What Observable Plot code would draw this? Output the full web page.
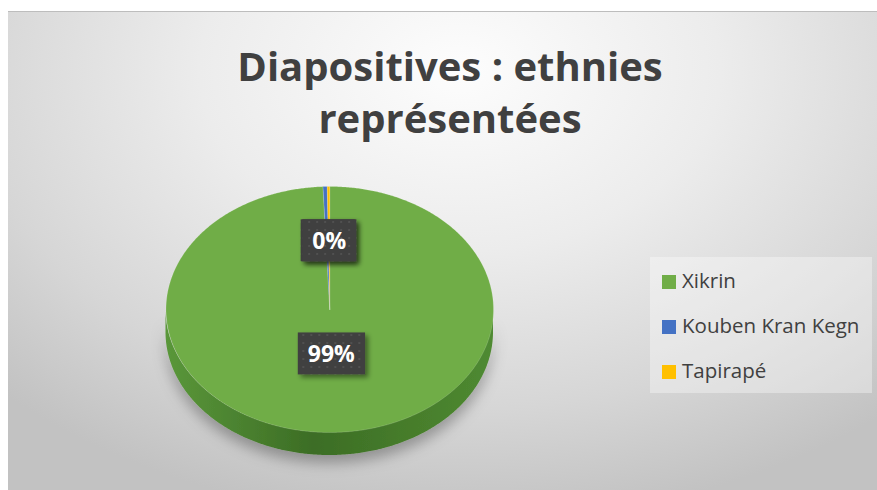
<!DOCTYPE html>
<html>
<head>
<meta charset="utf-8">
<script src="https://cdn.jsdelivr.net/npm/d3@7"></script>
<script src="https://cdn.jsdelivr.net/npm/@observablehq/plot@0.6"></script>
<style>
  html, body { margin: 0; padding: 0; background: #ffffff; }
  #wrap { position: relative; width: 877px; height: 490px; overflow: hidden; background: #ffffff; }
  #bg { position: absolute; left: 8px; top: 11px; width: 869px; height: 479px;
        background: radial-gradient(ellipse 75% 95% at 52% 12%, #fdfdfd 0%, #ececec 40%, #d6d6d6 75%, #c2c2c2 100%);
        border-top: 1px solid #bdbdbd; box-sizing: border-box; }
  #title { position: absolute; left: 8px; width: 884px; top: 40px; text-align: center;
           font-family: "Open Sans", sans-serif; font-weight: bold; font-size: 40px; line-height: 52px; color: #404040; }
  #chart { position: absolute; left: 0; top: 0; }
  #chart svg { background: transparent !important; }
  #legend { position: absolute; left: 650px; top: 257px; width: 222px; height: 136px;
            background: rgba(255,255,255,0.35); font-family: "Open Sans", sans-serif; font-size: 20.5px; color: #404040; }
  .item { position: absolute; left: 12px; height: 26px; line-height: 26px; white-space: nowrap; }
  .sw { display: inline-block; width: 14px; height: 14px; vertical-align: -1px; margin-right: 6px; }
</style>
</head>
<body>
<div id="wrap">
  <div id="bg"></div>
  <div id="title">Diapositives : ethnies<br>représentées</div>
  <div id="chart"></div>
  <div id="legend"></div>
</div>
<script>
const categories = ["Xikrin", "Kouben Kran Kegn", "Tapirapé"];
const values = [1210, 5, 3];
const colors = ["#70ad47", "#4472c4", "#ffc000"];

const data = categories.map((name, i) => ({name, value: values[i]}));
const total = d3.sum(values);
const arcs = d3.pie().sort(null).value(d => d.value)(data);
const depth = 0.187;

function arcPts(a0, a1, name) {
  const n = Math.max(2, Math.ceil((a1 - a0) / (Math.PI / 360)));
  const pts = [];
  for (let i = 0; i <= n; i++) {
    const a = a0 + (a1 - a0) * i / n;
    pts.push({name, x: Math.sin(a), y: Math.cos(a)});
  }
  return pts;
}

const slicePts = arcs.flatMap(arc => [
  {name: arc.data.name, x: 0, y: 0},
  ...arcPts(arc.startAngle, arc.endAngle, arc.data.name),
  {name: arc.data.name, x: 0, y: 0}
]);

const sidePts = arcs.flatMap(arc => {
  const lo = Math.max(arc.startAngle, Math.PI / 2), hi = Math.min(arc.endAngle, 3 * Math.PI / 2);
  return hi > lo ? arcPts(lo, hi, arc.data.name).map(p => ({...p, yb: p.y - depth})) : [];
});

const labels = arcs.map(arc => {
  const mid = (arc.startAngle + arc.endAngle) / 2;
  return {x: 0.46 * Math.sin(mid), y: 0.46 * Math.cos(mid), text: Math.round(arc.data.value / total * 100) + "%"};
});

const plot = Plot.plot({
  width: 877, height: 490,
  marginTop: 0, marginRight: 0, marginBottom: 0, marginLeft: 0,
  style: {background: "transparent", overflow: "visible"},
  x: {domain: [-1, 1], range: [165.5, 493], axis: null},
  y: {domain: [-1, 1], range: [432, 186], axis: null},
  color: {domain: categories, range: colors},
  marks: [
    Plot.area(sidePts, {x1: "x", y1: "y", y2: "yb", z: "name", fill: "url(#sideGrad)"}),
    Plot.line(slicePts, {x: "x", y: "y", z: "name", fill: "name", stroke: "#ffffff", strokeOpacity: 0.25, strokeWidth: 0.6}),
    Plot.text(labels, {x: "x", y: "y", text: "text", dy: -11, fill: "white", fontSize: 23, fontWeight: "bold", fontFamily: "Open Sans"})
  ]
});
document.getElementById("chart").appendChild(plot);

// defs: gradients, pattern, filters
const svg = d3.select(plot);
const defs = svg.insert("defs", ":first-child");
const g1 = defs.append("linearGradient").attr("id", "sideGrad").attr("x1", 0).attr("y1", 0).attr("x2", 1).attr("y2", 0);
g1.append("stop").attr("offset", "0%").attr("stop-color", "#5a973a");
g1.append("stop").attr("offset", "45%").attr("stop-color", "#3c6d25");
g1.append("stop").attr("offset", "100%").attr("stop-color", "#4f8a31");
const pat = defs.append("pattern").attr("id", "dots").attr("width", 8).attr("height", 8).attr("patternUnits", "userSpaceOnUse");
pat.append("rect").attr("width", 8).attr("height", 8).attr("fill", "#404040");
pat.append("circle").attr("cx", 4).attr("cy", 4).attr("r", 1).attr("fill", "#575757");
const f1 = defs.append("filter").attr("id", "pieShadow").attr("x", "-20%").attr("y", "-20%").attr("width", "140%").attr("height", "160%");
f1.append("feDropShadow").attr("dx", 0).attr("dy", 8).attr("stdDeviation", 7).attr("flood-color", "#000").attr("flood-opacity", 0.3);
const f2 = defs.append("filter").attr("id", "boxShadow").attr("x", "-30%").attr("y", "-30%").attr("width", "160%").attr("height", "160%");
f2.append("feDropShadow").attr("dx", 3).attr("dy", 3).attr("stdDeviation", 2.5).attr("flood-color", "#000").attr("flood-opacity", 0.45);

svg.selectAll('g[aria-label="area"]').attr("filter", "url(#pieShadow)");

// label boxes behind texts (each later label covers earlier overlapping ones)
svg.selectAll('g[aria-label="text"] text').each(function() {
  const bb = this.getBBox();
  const cy = bb.y + bb.height / 2;
  const r = document.createElementNS("http://www.w3.org/2000/svg", "rect");
  r.setAttribute("x", bb.x - 10);
  r.setAttribute("width", bb.width + 20);
  r.setAttribute("y", cy - 21);
  r.setAttribute("height", 42);
  r.setAttribute("fill", "url(#dots)");
  r.setAttribute("filter", "url(#boxShadow)");
  const t = this.getAttribute("transform");
  if (t) r.setAttribute("transform", t);
  this.parentNode.insertBefore(r, this);
});

// legend
const legend = document.getElementById("legend");
const rowTops = [10, 55, 100];
categories.forEach((name, i) => {
  const it = document.createElement("div");
  it.className = "item";
  it.style.top = rowTops[i] + "px";
  it.innerHTML = `<span class="sw" style="background:${colors[i]}"></span>${name}`;
  legend.appendChild(it);
});
</script>
</body>
</html>
